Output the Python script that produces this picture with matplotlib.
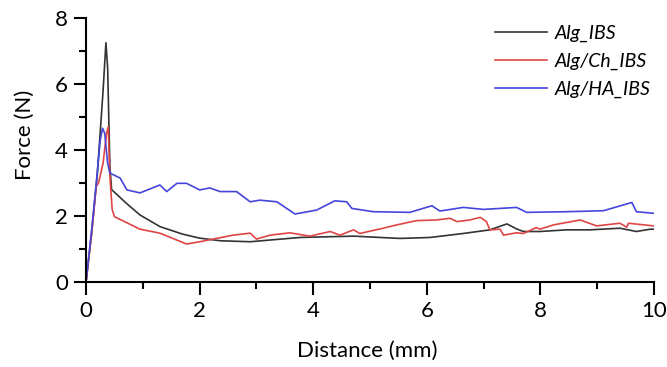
import matplotlib
matplotlib.use("Agg")
import matplotlib.pyplot as plt
from matplotlib.ticker import MultipleLocator

plt.rcParams["font.family"] = ["Lato", "DejaVu Sans"]

# Alg_IBS (black)
alg_x = [0, 0.1, 0.2, 0.3, 0.35, 0.38, 0.42, 0.45, 0.7, 0.95, 1.3, 1.7, 2.0, 2.36, 2.89,
         3.77, 4.71, 5.53, 6.06, 6.64, 7.11, 7.41, 7.58, 7.7, 7.99, 8.46, 8.87, 9.4, 9.69, 9.93, 10.0]
alg_y = [0, 1.5, 3.3, 5.8, 7.25, 6.5, 3.5, 2.8, 2.4, 2.03, 1.68, 1.45, 1.33, 1.25, 1.22,
         1.35, 1.39, 1.32, 1.35, 1.47, 1.58, 1.76, 1.61, 1.53, 1.53, 1.58, 1.58, 1.63, 1.53, 1.6, 1.6]

# Alg/Ch_IBS (red)
ch_x = [0, 0.1, 0.18, 0.22, 0.3, 0.36, 0.39, 0.42, 0.46, 0.5, 0.95, 1.3, 1.77, 2.0, 2.59, 2.89,
        3.0, 3.24, 3.59, 3.94, 4.3, 4.47, 4.71, 4.82, 5.23, 5.47, 5.82, 6.17, 6.41, 6.53,
        6.76, 6.94, 7.05, 7.11, 7.29, 7.35, 7.58, 7.7, 7.93, 7.99, 8.23, 8.7, 8.99, 9.4,
        9.52, 9.55, 10.0]
ch_y = [0, 1.5, 2.9, 3.0, 3.6, 4.5, 4.7, 3.2, 2.2, 1.98, 1.6, 1.48, 1.15, 1.22, 1.42, 1.48,
        1.3, 1.42, 1.49, 1.39, 1.53, 1.42, 1.58, 1.47, 1.63, 1.73, 1.86, 1.88, 1.93, 1.83,
        1.88, 1.96, 1.83, 1.58, 1.6, 1.42, 1.49, 1.47, 1.65, 1.6, 1.73, 1.88, 1.7, 1.78,
        1.66, 1.78, 1.7]

# Alg/HA_IBS (blue)
ha_x = [0, 0.1, 0.18, 0.25, 0.29, 0.33, 0.38, 0.42, 0.6, 0.72, 0.95, 1.3, 1.42, 1.6, 1.77,
        2.0, 2.18, 2.36, 2.65, 2.89, 3.06, 3.36, 3.68, 4.06, 4.38, 4.59, 4.68, 5.06, 5.7,
        6.09, 6.23, 6.64, 7.0, 7.58, 7.76, 8.46, 9.11, 9.61, 9.69, 10.0]
ha_y = [0, 1.6, 3.0, 4.3, 4.66, 4.5, 3.6, 3.3, 3.15, 2.79, 2.7, 2.94, 2.74, 2.99, 2.99,
        2.79, 2.85, 2.74, 2.74, 2.43, 2.48, 2.43, 2.06, 2.18, 2.46, 2.43, 2.23, 2.13, 2.11,
        2.31, 2.15, 2.26, 2.2, 2.26, 2.11, 2.13, 2.16, 2.41, 2.13, 2.08]

series = [
    (alg_x, alg_y, "#333333", "Alg_IBS"),
    (ch_x, ch_y, "#e04545", "Alg/Ch_IBS"),
    (ha_x, ha_y, "#4545dc", "Alg/HA_IBS"),
]

fig = plt.figure(figsize=(6.67, 3.67), dpi=100)
ax = fig.add_axes([0.129, 0.2316, 0.8515, 0.7194])

for x, y, color, label in series:
    ax.plot(x, y, color=color, lw=1.2, label=label)

ax.set_xlim(0, 10)
ax.set_ylim(0, 8)
ax.xaxis.set_major_locator(MultipleLocator(2))
ax.xaxis.set_minor_locator(MultipleLocator(1))
ax.yaxis.set_major_locator(MultipleLocator(2))
ax.yaxis.set_minor_locator(MultipleLocator(1))

ax.spines["top"].set_visible(False)
ax.spines["right"].set_visible(False)
for side in ("left", "bottom"):
    ax.spines[side].set_linewidth(1.5)
ax.tick_params(which="major", direction="out", length=9, width=1.5, labelsize=16)
ax.tick_params(which="minor", direction="out", length=5, width=1.5)
ax.tick_params(axis="x", which="major", pad=5)
ax.tick_params(axis="y", which="major", pad=4)

ax.set_xlabel("Distance (mm)", fontsize=16)
ax.set_ylabel("Force (N)", fontsize=16)
ax.xaxis.set_label_coords(0.496, -0.222)
ax.yaxis.set_label_coords(-0.090, 0.557)

leg = ax.legend(loc="upper left", bbox_to_anchor=(0.72, 0.975), frameon=False,
                fontsize=14, handlelength=2.7, handletextpad=0.36,
                borderaxespad=0.0, borderpad=0.0, labelspacing=0.55)
for t in leg.get_texts():
    t.set_fontstyle("italic")

fig.savefig("out.png", dpi=100)
